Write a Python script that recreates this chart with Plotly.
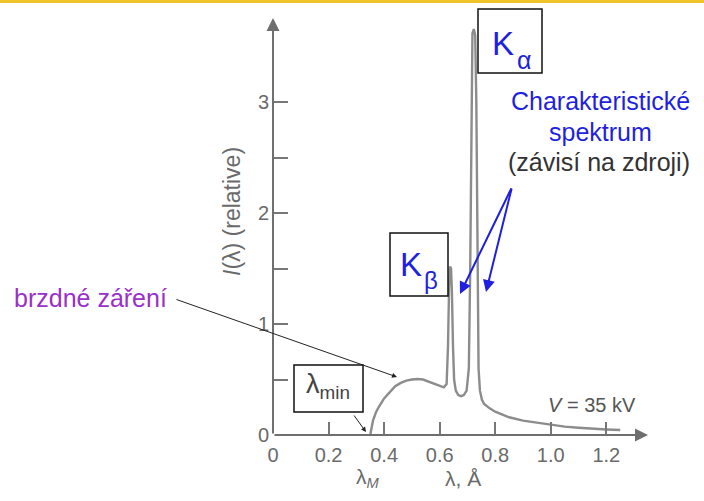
import plotly.graph_objects as go

# ---- data ----
wavelength = [0.35, 0.355, 0.36, 0.37, 0.38, 0.40, 0.42, 0.44, 0.46, 0.48, 0.50, 0.52,
              0.54, 0.56, 0.58, 0.60, 0.615, 0.625, 0.630, 0.634, 0.637, 0.641, 0.644,
              0.648, 0.652, 0.658, 0.667, 0.677, 0.687, 0.697, 0.705, 0.710, 0.714,
              0.718, 0.723, 0.728, 0.732, 0.736, 0.740, 0.745, 0.752, 0.76, 0.78, 0.80,
              0.85, 0.90, 0.95, 1.00, 1.05, 1.10, 1.15, 1.20, 1.25]
intensity = [0.0, 0.08, 0.13, 0.20, 0.25, 0.33, 0.39, 0.44, 0.47, 0.49, 0.50, 0.505,
             0.50, 0.48, 0.46, 0.44, 0.43, 0.46, 0.80, 1.35, 1.52, 1.50, 1.30,
             0.80, 0.50, 0.40, 0.36, 0.35, 0.36, 0.40, 0.60, 1.50, 3.00,
             3.62, 3.66, 3.60, 3.00, 1.50, 0.60, 0.40, 0.32, 0.28, 0.24, 0.21,
             0.16, 0.13, 0.11, 0.09, 0.075, 0.065, 0.055, 0.05, 0.045]
x_tick_vals = [0, 0.2, 0.4, 0.6, 0.8, 1.0, 1.2]
x_tick_text = ["0", "0.2", "0.4", "0.6", "0.8", "1.0", "1.2"]
y_tick_vals = [0, 0.5, 1, 1.5, 2, 2.5, 3]
y_tick_text = ["0", "", "1", "", "2", "", "3"]
X_MAX = 1.35
Y_MAX = 3.76

# ---- layout geometry (pixels) ----
W, H = 704, 501
L, R, T, B = 273, 56, 18, 66
PW, PH = W - L - R, H - T - B


def px(x):
    return (x - L) / PW


def py(y):
    return (H - B - y) / PH


FONT = "Liberation Sans, Arial, sans-serif"
GRAY = "#6a6a6a"
BLUE = "#1f1fe0"

fig = go.Figure()
fig.add_trace(go.Scatter(x=wavelength, y=intensity, mode="lines",
                         line=dict(color="#8c8c8c", width=2.4),
                         hoverinfo="skip", showlegend=False))

annotations = []
# axis arrows
annotations.append(dict(x=0, y=Y_MAX, ax=0, ay=0, xref="x", yref="y", axref="x", ayref="y",
                        showarrow=True, arrowhead=2, arrowsize=1.3, arrowwidth=2,
                        arrowcolor="#6f6f6f", text=""))
annotations.append(dict(x=X_MAX, y=0, ax=0, ay=0, xref="x", yref="y", axref="x", ayref="y",
                        showarrow=True, arrowhead=2, arrowsize=1.3, arrowwidth=2,
                        arrowcolor="#6f6f6f", text=""))


def txt(x, y, s, size, color, **kw):
    d = dict(x=px(x), y=py(y), xref="paper", yref="paper", text=s, showarrow=False,
             font=dict(family=FONT, size=size, color=color), xanchor="center",
             yanchor="middle")
    d.update(kw)
    annotations.append(d)


def arrow(hx, hy, tx, ty, color, width, size=1.0):
    annotations.append(dict(x=px(hx), y=py(hy), xref="paper", yref="paper",
                            ax=tx - hx, ay=ty - hy, text="", showarrow=True,
                            arrowhead=2, arrowsize=size, arrowwidth=width,
                            arrowcolor=color))


txt(232, 212, "<i>I</i>(λ) (relative)", 23, GRAY, textangle=-90)
txt(368, 478, "λ<sub><i>M</i></sub>", 21, GRAY)
txt(463, 478, "λ, Å", 21, GRAY)
txt(592, 405, "<i>V</i> = 35 kV", 20, "#555555")
txt(328, 386, "λ<sub>min</sub>", 27, "#444444")
txt(503, 44, "K", 33, BLUE)
txt(524, 60, "α", 25, BLUE)
txt(411, 264, "K", 33, BLUE)
txt(431, 280, "β", 24, BLUE)
txt(600, 101, "Charakteristické", 25, BLUE)
txt(600, 132, "spektrum", 25, BLUE)
txt(599, 162, "(závisí na zdroji)", 25, "#333333")
txt(90, 298, "brzdné záření", 25, "#9b30c8")

arrow(366, 432, 353, 414, "#222222", 1)
arrow(397, 377, 175, 299, "#222222", 1)
arrow(460, 294, 512, 187, BLUE, 2, 1.2)
arrow(486, 292, 512, 187, BLUE, 2, 1.2)

shapes = [
    dict(type="rect", xref="paper", yref="paper", x0=px(294), x1=px(363), y0=py(412), y1=py(365),
         line=dict(color="#111111", width=1.5), fillcolor="rgba(0,0,0,0)"),
    dict(type="rect", xref="paper", yref="paper", x0=px(478), x1=px(542), y0=py(73), y1=py(9),
         line=dict(color="#111111", width=1.5), fillcolor="rgba(0,0,0,0)"),
    dict(type="rect", xref="paper", yref="paper", x0=px(390), x1=px(448), y0=py(296), y1=py(233),
         line=dict(color="#111111", width=1.5), fillcolor="rgba(0,0,0,0)"),
    dict(type="rect", xref="paper", yref="paper", x0=px(0), x1=px(704), y0=py(3), y1=py(0),
         line=dict(width=0), fillcolor="#efc52a"),
]

fig.update_layout(
    width=W, height=H,
    margin=dict(l=L, r=R, t=T, b=B, pad=0),
    paper_bgcolor="white", plot_bgcolor="white",
    showlegend=False,
    xaxis=dict(range=[0, X_MAX], showgrid=False, zeroline=False, showline=False,
               tickvals=x_tick_vals, ticktext=x_tick_text, ticks="inside", ticklen=13,
               tickwidth=2, tickcolor="#777777", ticklabelstandoff=6,
               tickfont=dict(family=FONT, size=20, color=GRAY)),
    yaxis=dict(range=[0, Y_MAX], showgrid=False, zeroline=False, showline=False,
               tickvals=y_tick_vals, ticktext=y_tick_text, ticks="inside", ticklen=15,
               tickwidth=2, tickcolor="#777777", ticklabelstandoff=3,
               tickfont=dict(family=FONT, size=20, color=GRAY)),
    annotations=annotations,
    shapes=shapes,
)

fig.write_html("out.html")
